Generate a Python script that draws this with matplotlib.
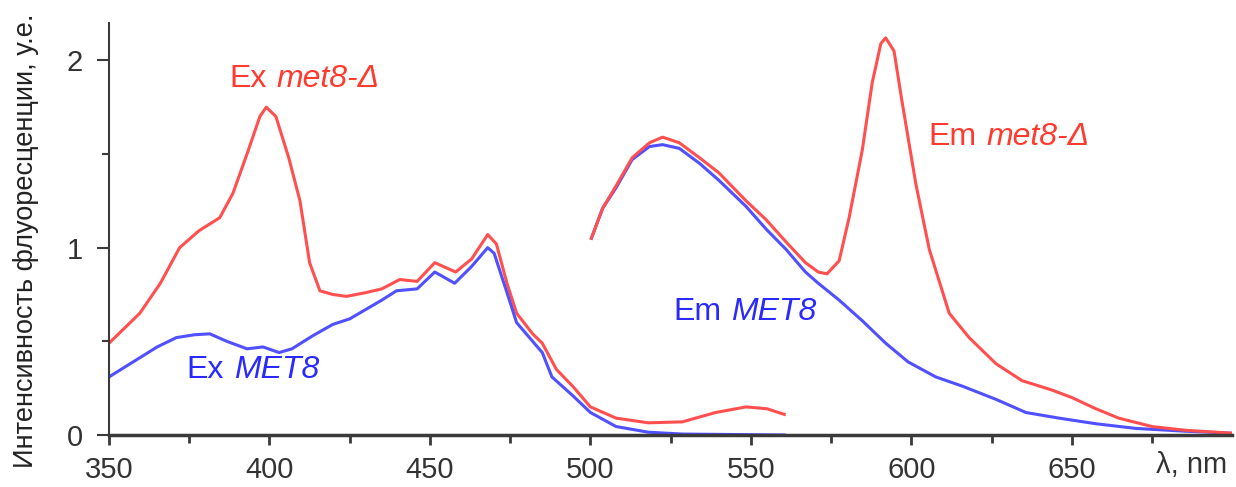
import numpy as np
import matplotlib
matplotlib.use("Agg")
import matplotlib.pyplot as plt
from matplotlib.offsetbox import TextArea, HPacker, AnnotationBbox

plt.rcParams['font.family'] = ['Liberation Sans', 'DejaVu Sans']

# спектр возбуждения met8-Δ
ex_mut_x = [350, 359.6, 366, 372, 378, 384.5, 388.6, 393, 397, 399, 402, 406, 409.5,
            412.5, 415.7, 419.7, 424, 430, 435, 440.6, 446, 451.5, 458, 463, 468,
            470.7, 474, 477, 482, 485, 489.4, 494.5, 500, 508, 518, 528.6, 539,
            548.5, 555, 560.4]
ex_mut_y = [0.49, 0.65, 0.81, 1.0, 1.09, 1.16, 1.29, 1.50, 1.70, 1.75, 1.70, 1.48, 1.25,
            0.92, 0.77, 0.75, 0.74, 0.76, 0.78, 0.83, 0.82, 0.92, 0.87, 0.94, 1.07,
            1.02, 0.81, 0.65, 0.54, 0.49, 0.35, 0.26, 0.15, 0.09, 0.065, 0.07, 0.12,
            0.15, 0.14, 0.11]

# спектр возбуждения MET8
ex_wt_x = [350, 357.5, 365, 371, 376.6, 381.4, 386.7, 393, 398, 403, 407, 413.5,
           419.7, 425, 430, 435, 439.6, 446, 451.5, 457.7, 463, 468, 470, 474, 477,
           482, 485, 488, 494.5, 500, 508, 518, 528.6, 560.4]
ex_wt_y = [0.31, 0.39, 0.47, 0.52, 0.535, 0.54, 0.50, 0.46, 0.47, 0.44, 0.46, 0.53,
           0.59, 0.62, 0.67, 0.72, 0.77, 0.78, 0.87, 0.81, 0.90, 1.00, 0.97, 0.76, 0.60,
           0.50, 0.44, 0.31, 0.21, 0.12, 0.045, 0.015, 0.005, 0.0]

# спектр испускания met8-Δ
em_mut_x = [500.3, 503.8, 508, 513, 518.4, 522.5, 527.7, 534, 540, 548.5, 554.7, 561,
            567, 571, 573.7, 577.5, 580.6, 584.7, 587.8, 590.5, 592, 594.6, 597,
            601.4, 605.6, 611.8, 618, 626.4, 634.5, 643.8, 650, 657.5, 664.6, 675,
            685.5, 699.5]
em_mut_y = [1.05, 1.21, 1.33, 1.48, 1.56, 1.59, 1.56, 1.48, 1.40, 1.25, 1.15, 1.03,
            0.92, 0.87, 0.86, 0.93, 1.16, 1.52, 1.88, 2.09, 2.12, 2.05, 1.79,
            1.34, 0.99, 0.65, 0.52, 0.38, 0.29, 0.24, 0.20, 0.14, 0.09, 0.045,
            0.025, 0.01]

# спектр испускания MET8
em_wt_x = [500.3, 503.8, 508, 513, 518.4, 522.5, 527.7, 534, 540, 548.5, 554.7, 561,
           567, 571, 577.5, 584.7, 592, 599, 607.6, 616, 626.4, 635.7, 646, 657.5,
           670, 685.5, 699.5]
em_wt_y = [1.05, 1.21, 1.32, 1.47, 1.54, 1.55, 1.53, 1.45, 1.36, 1.22, 1.10, 0.99,
           0.87, 0.81, 0.72, 0.61, 0.49, 0.39, 0.31, 0.26, 0.19, 0.12, 0.09, 0.06,
           0.035, 0.02, 0.01]

red_line = '#ff4f4f'
blue_line = '#5050ff'
red_txt = '#ff3a2e'
blue_txt = '#2a2aff'
axcol = '#3a3a3a'

fig = plt.figure(figsize=(12.36, 4.87), dpi=100)
ax = fig.add_axes([0.0882, 0.1068, 0.9088, 0.8462])

ax.plot(ex_mut_x, ex_mut_y, color=red_line, lw=2.2, solid_joinstyle='round')
ax.plot(ex_wt_x, ex_wt_y, color=blue_line, lw=2.2, solid_joinstyle='round')
ax.plot(em_wt_x, em_wt_y, color=blue_line, lw=2.2, solid_joinstyle='round')
ax.plot(em_mut_x, em_mut_y, color=red_line, lw=2.2, solid_joinstyle='round')

ax.set_xlim(350, 700)
ax.set_ylim(0, 2.2)
ax.set_xticks([350, 400, 450, 500, 550, 600, 650])
ax.set_xticks(np.arange(375, 700, 50), minor=True)
ax.set_yticks([0, 1, 2])
ax.set_yticks([0.5, 1.5], minor=True)

for s in ['top', 'right']:
    ax.spines[s].set_visible(False)
ax.spines['left'].set_color(axcol)
ax.spines['left'].set_linewidth(1.5)
ax.spines['bottom'].set_color(axcol)
ax.spines['bottom'].set_linewidth(2.5)

ax.tick_params(axis='x', which='major', length=7, width=2, color=axcol,
               labelsize=21, labelcolor='#333333', pad=8)
ax.tick_params(axis='x', which='minor', length=6, width=2, color=axcol)
ax.tick_params(axis='y', which='major', length=9, width=1.5, color=axcol,
               labelsize=21, labelcolor='#333333', pad=10)
ax.tick_params(axis='y', which='minor', length=5, width=1.5, color=axcol)

ax.text(0.995, -0.04, 'λ, nm', transform=ax.transAxes, ha='right', va='top',
        fontsize=21, color='#333333')

fig.text(0.021, 0.505, 'Интенсивность флуоресценции, у.е.', rotation=90,
         ha='center', va='center', fontsize=19.5, color='#222222')


# подписи кривых: обычный текст + курсив
def label(x, y, plain, italic, color):
    a = TextArea(plain, textprops=dict(color=color, fontsize=23))
    b = TextArea(italic, textprops=dict(color=color, fontsize=23, style='italic'))
    box = HPacker(children=[a, b], align='baseline', pad=0, sep=7)
    ab = AnnotationBbox(box, (x, y), frameon=False, box_alignment=(0.5, 0.5))
    ax.add_artist(ab)


label(411, 1.90, 'Ex', 'met8-Δ', red_txt)
label(394.8, 0.347, 'Ex', 'MET8', blue_txt)
label(548, 0.656, 'Em', 'MET8', blue_txt)
label(630.4, 1.59, 'Em', 'met8-Δ', red_txt)

fig.savefig('out.png', dpi=100)
